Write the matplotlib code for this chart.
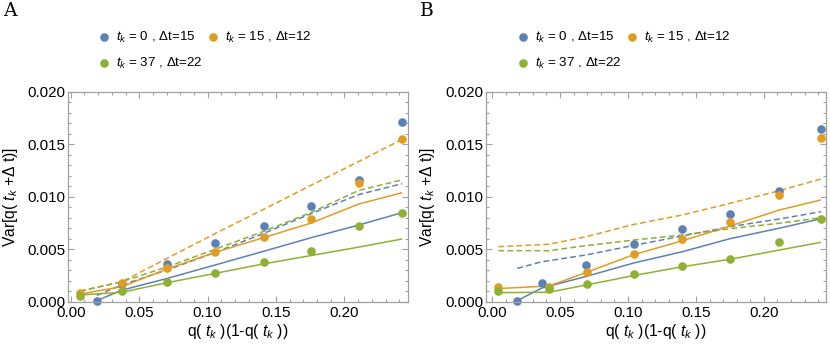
import matplotlib
matplotlib.use("Agg")
import matplotlib.pyplot as plt
from matplotlib.ticker import MultipleLocator
from matplotlib.lines import Line2D

plt.rcParams['font.family'] = ['Liberation Sans', 'DejaVu Sans']
plt.rcParams['mathtext.fontset'] = 'custom'
plt.rcParams['mathtext.rm'] = 'Liberation Sans'
plt.rcParams['mathtext.it'] = 'Liberation Sans:italic'

# ---------------- data ----------------
labels = [r"$t_k$ = 0 , Δt=15", r"$t_k$ = 15 , Δt=12", r"$t_k$ = 37 , Δt=22"]
colors = ["#5E81B5", "#E19C24", "#8FB032"]

# Panel A
xA_blue = [0.019, 0.0373, 0.070, 0.1056, 0.1409, 0.1758, 0.2104, 0.2421]
xA_og = [0.0068, 0.0373, 0.070, 0.1056, 0.1409, 0.1758, 0.2104, 0.2421]
A_blue_pts = [0.0001, 0.00166, 0.0036, 0.0056, 0.0072, 0.0091, 0.0116, 0.01708]
A_orange_pts = [0.00086, 0.00175, 0.0032, 0.00476, 0.0062, 0.00785, 0.01128, 0.01546]
A_green_pts = [0.00054, 0.00105, 0.00185, 0.0027, 0.00375, 0.00483, 0.0072, 0.00848]
A_blue_solid = [0.0001, 0.0011, 0.0022, 0.0035, 0.0048, 0.0061, 0.0073, 0.00848]
A_blue_dash = [0.0006, 0.0016, 0.0030, 0.0047, 0.0065, 0.0084, 0.0102, 0.01124]
A_orange_solid = [0.00073, 0.00143, 0.0031, 0.0047, 0.0061, 0.0075, 0.0093, 0.01038]
A_orange_dash = [0.00102, 0.0019, 0.0041, 0.0065, 0.0088, 0.0111, 0.01335, 0.01546]
A_green_solid = [0.00064, 0.0009, 0.0018, 0.0027, 0.0036, 0.0044, 0.0052, 0.00597]
A_green_dash = [0.0010, 0.0019, 0.0033, 0.0050, 0.0067, 0.0085, 0.0106, 0.0116]

# Panel B
xB_blue = [0.0185, 0.0365, 0.069, 0.1046, 0.140, 0.175, 0.2113, 0.242]
xB_og = [0.0046, 0.042, 0.0696, 0.1046, 0.140, 0.175, 0.2113, 0.242]
B_blue_pts = [0.0001, 0.00175, 0.0035, 0.00547, 0.0069, 0.00838, 0.01054, 0.01642]
B_orange_pts = [0.00143, 0.00143, 0.0028, 0.00451, 0.00594, 0.00762, 0.0102, 0.01559]
B_green_pts = [0.00102, 0.00118, 0.00165, 0.00264, 0.00343, 0.00404, 0.00566, 0.0079]
B_blue_solid = [0.0001, 0.0013, 0.0024, 0.0037, 0.00476, 0.0060, 0.0070, 0.0079]
B_blue_dash = [0.00318, 0.0038, 0.00445, 0.00537, 0.00626, 0.00714, 0.00788, 0.00857]
B_orange_solid = [0.00125, 0.0015, 0.0028, 0.0045, 0.0058, 0.0072, 0.00873, 0.00969]
B_orange_dash = [0.00524, 0.00547, 0.0062, 0.00737, 0.00826, 0.00937, 0.01057, 0.01169]
B_green_solid = [0.00086, 0.0009, 0.0016, 0.0025, 0.00333, 0.00404, 0.00492, 0.00566]
B_green_dash = [0.00486, 0.00486, 0.00535, 0.00588, 0.00635, 0.00695, 0.00747, 0.0080]

# ---------------- figure ----------------
W, H = 830, 350
fig = plt.figure(figsize=(8.3, 3.5), dpi=100)
renderer = fig.canvas.get_renderer()


def fit_size(text, target_px, base=10.0):
    t = fig.text(0, 0, text, fontsize=base)
    w = t.get_window_extent(renderer).width
    t.remove()
    return base * target_px / w


frame_col = "#a0a0a0"
TICK_FS = fit_size("0.020", 38)
LAB_FS = fit_size(r"q( $t_k$ )(1-q( $t_k$ ))", 102)
LEG_FS = fit_size(labels[0], 79)
LW = 1.1


def px2fig(x, y):
    return x / W, 1 - y / H


def style_axes(ax, xlim):
    ax.set_xlim(*xlim)
    ax.set_ylim(0, 0.020)
    ax.xaxis.set_major_locator(MultipleLocator(0.05))
    ax.xaxis.set_minor_locator(MultipleLocator(0.01))
    ax.yaxis.set_major_locator(MultipleLocator(0.005))
    ax.yaxis.set_minor_locator(MultipleLocator(0.001))
    ax.xaxis.set_major_formatter(plt.FuncFormatter(lambda v, p: f"{v:.2f}"))
    ax.yaxis.set_major_formatter(plt.FuncFormatter(lambda v, p: f"{v:.3f}"))
    for s in ax.spines.values():
        s.set_color(frame_col)
        s.set_linewidth(0.9)
    ax.tick_params(which='both', direction='in', top=True, right=True,
                   color=frame_col, labelsize=TICK_FS, labelcolor='black', width=0.8)
    ax.tick_params(which='major', length=4.5, pad=2)
    ax.tick_params(axis='x', which='major', pad=3)
    ax.tick_params(which='minor', length=2.5)
    ax.set_xlabel(r"q( $t_k$ )(1-q( $t_k$ ))", fontsize=LAB_FS)
    ax.set_ylabel(r"Var[q( $t_k$ +Δ t)]", fontsize=LAB_FS)
    ax.xaxis.set_label_coords(0.5, -0.14)
    ax.yaxis.set_label_coords(-0.171, 0.5)
    ax.xaxis.label.set_va('center')
    ax.yaxis.label.set_va('center')


def draw_panel(ax, xb, xog, pts, solids, dashes):
    xs = [xb, xog, xog]
    for i in range(3):
        ax.plot(xs[i], solids[i], color=colors[i], lw=LW, solid_capstyle='butt')
        ax.plot(xs[i], dashes[i], color=colors[i], lw=LW, dashes=(3.8, 2.1))
    for i in range(3):
        ax.plot(xs[i], pts[i], 'o', color=colors[i], ms=6.2, mec='none', clip_on=False)


axA = fig.add_axes([68.3 / W, 48.3 / H, 339.4 / W, 210 / H])
axB = fig.add_axes([486 / W, 48.3 / H, 340 / W, 210 / H])

draw_panel(axA, xA_blue, xA_og,
           [A_blue_pts, A_orange_pts, A_green_pts],
           [A_blue_solid, A_orange_solid, A_green_solid],
           [A_blue_dash, A_orange_dash, A_green_dash])
draw_panel(axB, xB_blue, xB_og,
           [B_blue_pts, B_orange_pts, B_green_pts],
           [B_blue_solid, B_orange_solid, B_green_solid],
           [B_blue_dash, B_orange_dash, B_green_dash])

style_axes(axA, (-0.0018, 0.2462))
style_axes(axB, (-0.0045, 0.2457))

# legends (drawn above each panel)
def legend(x0):
    pos = [(x0, 37), (x0 + 109, 37), (x0, 63)]
    for i, (mx, my) in enumerate(pos):
        fx, fy = px2fig(mx, my)
        fig.add_artist(Line2D([fx], [fy], transform=fig.transFigure, marker='o',
                              color=colors[i], ms=6.2, mec='none', ls='none'))
        tx, ty = px2fig(mx + 12, my)
        fig.text(tx, ty, labels[i], fontsize=LEG_FS, ha='left', va='center')

legend(104)
legend(523)

# panel letters
for lx, letter in [(3, "A"), (420, "B")]:
    fx, fy = px2fig(lx, 11)
    fig.text(fx, fy, letter, fontsize=13.5, family='DejaVu Serif', ha='left', va='center')

fig.savefig("out.png", dpi=100)
